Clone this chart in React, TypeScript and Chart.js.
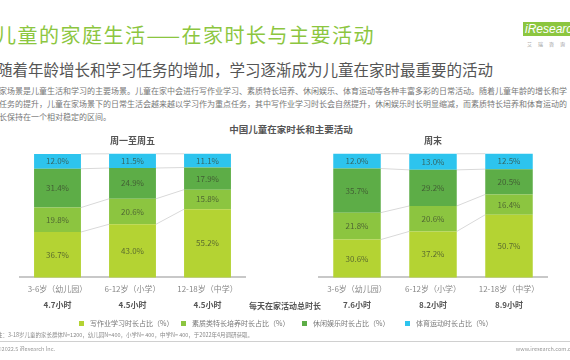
import React, { useEffect, useRef } from "react";
import { Chart, registerables } from "chart.js";
Chart.register(...registerables);

const FONT = '"Noto Sans CJK SC", "Noto Sans", sans-serif';

const categories = ["3-6岁（幼儿园）", "6-12岁（小学）", "12-18岁（中学）"];
const seriesNames = ["写作业学习时长占比（%）", "素质类特长培养时长占比（%）", "休闲娱乐时长占比（%）", "体育运动时长占比（%）"];
const seriesColors = ["#b4d333", "#8cc540", "#5dad47", "#2dc4ee"];

const weekdayHomework = [36.7, 43.0, 55.2];
const weekdayTalent = [19.8, 20.6, 15.8];
const weekdayLeisure = [31.4, 24.9, 17.9];
const weekdaySports = [12.0, 11.5, 11.1];

const weekendHomework = [30.6, 37.2, 50.7];
const weekendTalent = [21.8, 20.6, 16.4];
const weekendLeisure = [35.7, 29.2, 20.5];
const weekendSports = [12.0, 13.0, 12.5];

const weekdayHours = ["4.7小时", "4.5小时", "4.5小时"];
const weekendHours = ["7.6小时", "8.2小时", "8.9小时"];

const overlayPlugin = {
  id: "overlay",
  beforeDatasetsDraw(chart: any) {
    const ctx = chart.ctx;
    ctx.save();
    ctx.strokeStyle = "#d9d9d9";
    ctx.lineWidth = 1;
    chart.data.datasets.forEach((_: any, i: number) => {
      const meta = chart.getDatasetMeta(i);
      for (let j = 0; j < meta.data.length - 1; j++) {
        const a = meta.data[j].getProps(["x", "y", "width"], true);
        const b = meta.data[j + 1].getProps(["x", "y", "width"], true);
        ctx.beginPath();
        ctx.moveTo(a.x + a.width / 2, a.y);
        ctx.lineTo(b.x - b.width / 2, b.y);
        ctx.stroke();
      }
    });
    ctx.restore();
  },
  afterDatasetsDraw(chart: any, _args: any, opts: any) {
    const ctx = chart.ctx;
    ctx.save();
    ctx.textAlign = "center";
    ctx.textBaseline = "middle";
    ctx.font = `8px ${FONT}`;
    ctx.fillStyle = "rgba(55,65,45,0.72)";
    chart.data.datasets.forEach((ds: any, i: number) => {
      const meta = chart.getDatasetMeta(i);
      meta.data.forEach((el: any, j: number) => {
        const p = el.getProps(["x", "y", "base"], true);
        ctx.fillText(`${Number(ds.data[j]).toFixed(1)}%`, p.x, (p.y + p.base) / 2);
      });
    });
    const hours: string[] = opts.hours || [];
    ctx.font = `bold 8px ${FONT}`;
    ctx.fillStyle = "#555";
    const meta0 = chart.getDatasetMeta(0);
    hours.forEach((h, j) => {
      const el = meta0.data[j];
      if (!el) return;
      ctx.fillText(h, el.x, chart.chartArea.bottom + 28);
    });
    ctx.restore();
  },
};

function makeConfig(title: string, data: number[][], hours: string[], padLeft: number, padRight: number): any {
  return {
    type: "bar",
    data: {
      labels: categories,
      datasets: data.map((d, i) => ({
        label: seriesNames[i],
        data: d,
        backgroundColor: seriesColors[i],
        borderWidth: 0,
        barPercentage: 0.625,
        categoryPercentage: 1,
        clip: false,
      })),
    },
    options: {
      animation: false,
      responsive: false,
      devicePixelRatio: 1,
      layout: { padding: { left: padLeft, right: padRight, top: 0, bottom: 14 } },
      plugins: {
        legend: { display: false },
        tooltip: { enabled: false },
        title: {
          display: true,
          text: title,
          color: "#555",
          font: { size: 9, weight: "bold", family: FONT },
          padding: { top: 10, bottom: 8 },
        },
        overlay: { hours },
      },
      scales: {
        x: {
          stacked: true,
          grid: { display: false, drawTicks: false },
          border: { display: true, color: "#c8c8c8", width: 2 },
          ticks: { padding: 7, color: "#888", font: { size: 8, family: FONT }, maxRotation: 0, autoSkip: false },
        },
        y: { stacked: true, display: false, min: 0, max: 100 },
      },
    },
    plugins: [overlayPlugin],
  };
}

function BarChart(props: { title: string; data: number[][]; hours: string[]; padLeft: number; padRight: number; left: number }) {
  const ref = useRef<HTMLCanvasElement>(null);
  useEffect(() => {
    if (!ref.current) return;
    const chart = new Chart(ref.current, makeConfig(props.title, props.data, props.hours, props.padLeft, props.padRight));
    return () => chart.destroy();
  }, []);
  return (
    <canvas
      ref={ref}
      width={285}
      height={190}
      style={{ position: "absolute", left: props.left, top: 125, width: 285, height: 190 }}
    />
  );
}

const abs = (s: React.CSSProperties): React.CSSProperties => ({ position: "absolute", whiteSpace: "nowrap", fontFamily: FONT, ...s });

const bodyLines = [
  "家场景是儿童生活和学习的主要场景。儿童在家中会进行写作业学习、素质特长培养、休闲娱乐、体育运动等各种丰富多彩的日常活动。随着儿童年龄的增长和学",
  "任务的提升，儿童在家场景下的日常生活会越来越以学习作为重点任务，其中写作业学习时长会自然提升，休闲娱乐时长明显缩减，而素质特长培养和体育运动的",
  "长保持在一个相对稳定的区间。",
];

const legendX = [79, 181, 302, 405];

export default function App() {
  return (
    <div style={{ position: "fixed", left: 0, top: 0, width: 570, height: 360, overflow: "hidden", background: "#fff", fontFamily: FONT }}>
      <div style={abs({ left: -4, top: 23, fontSize: 20, letterSpacing: 1.5, lineHeight: "24px", color: "#8cc63f" })}>儿童的家庭生活——在家时长与主要活动</div>
      <div style={abs({ left: 523, top: 22, width: 60, height: 14, background: "#8cc63f", color: "#fff", fontSize: 12, lineHeight: "14px", fontStyle: "italic", paddingLeft: 2, fontFamily: "Liberation Sans, sans-serif" })}>iResearch</div>
      <div style={abs({ left: 527, top: 40, fontSize: 5, color: "#999", letterSpacing: 6 })}>艾瑞咨询</div>
      <div style={abs({ left: -3, top: 59, fontSize: 15.5, lineHeight: "20px", color: "#555" })}>随着年龄增长和学习任务的增加，学习逐渐成为儿童在家时最重要的活动</div>
      {bodyLines.map((t, i) => (
        <div key={i} style={abs({ left: -1, top: 85 + i * 13, fontSize: 8, lineHeight: "12px", color: "#777" })}>{t}</div>
      ))}
      <div style={abs({ left: 0, width: 582, top: 123, textAlign: "center", fontSize: 9.5, fontWeight: "bold", color: "#555", lineHeight: "13px" })}>中国儿童在家时长和主要活动</div>
      <BarChart title="周一至周五" data={[weekdayHomework, weekdayTalent, weekdayLeisure, weekdaySports]} hours={weekdayHours} padLeft={20} padRight={40} left={0} />
      <BarChart title="周末" data={[weekendHomework, weekendTalent, weekendLeisure, weekendSports]} hours={weekendHours} padLeft={34} padRight={23} left={285} />
      <div style={abs({ left: 235, width: 100, top: 300, textAlign: "center", fontSize: 8, fontWeight: "bold", color: "#555", lineHeight: "12px" })}>每天在家活动总时长</div>
      {seriesNames.map((n, i) => (
        <div key={i} style={abs({ left: legendX[i], top: 318, fontSize: 7, lineHeight: "10px", color: "#777", display: "flex", alignItems: "center" })}>
          <span style={{ display: "inline-block", width: 5, height: 5, background: seriesColors[i], marginRight: 6 }} />
          {n}
        </div>
      ))}
      <div style={abs({ left: -3, top: 331, fontSize: 5.5, color: "#888", lineHeight: "8px" })}>注：3-18岁儿童的家长群体N=1200，幼儿园N=400，小学N= 400，中学N= 400，于2022年4月调研获取。</div>
      <div style={{ position: "absolute", left: 0, top: 341, width: 570, height: 1, background: "#d0d0d0" }} />
      <div style={abs({ left: -3, top: 345, fontSize: 5.5, color: "#999", lineHeight: "8px" })}>©2022.5 iResearch Inc.</div>
      <div style={abs({ right: -4, top: 345, fontSize: 5.5, color: "#999", lineHeight: "8px" })}>www.iresearch.com.cn</div>
    </div>
  );
}
